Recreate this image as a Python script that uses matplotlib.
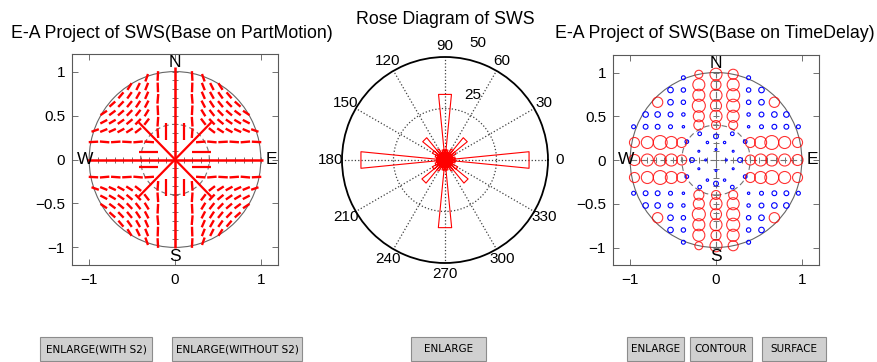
import numpy as np
import matplotlib
matplotlib.use("Agg")
import matplotlib.pyplot as plt
from matplotlib.collections import LineCollection
from matplotlib.patches import Rectangle, Circle

plt.rcParams["font.family"] = ["Liberation Sans", "DejaVu Sans"]

W, H = 878, 362

# --- PartMotion grid, NE quadrant (mirrored into the other three) ---
pm_x = [0.33, 0.43, 0.53, 0.63, 0.73, 0.83, 0.93]
pm_y = [0.33, 0.43, 0.53, 0.63, 0.73, 0.83, 0.93]

# fast direction (deg) of each bar, rows follow pm_y (None = no bar)
pm_quad_angle = [
    [None, -37, -32, -28, -24, -22, -19],
    [-52, -45, -39, -34, -30, -27, None],
    [-58, -51, -45, -40, -36, -33, None],
    [-62, -56, -50, -45, -41, None, None],
    [-66, -60, -54, -49, None, None, None],
    [-68, -63, -57, None, None, None, None],
    [-70, None, None, None, None, None, None],
]
pm_quad_len = 0.09

# bars in the lanes beside the N-S and E-W axes (lane offset 0.2)
pm_arm_pos = [0.30, 0.43, 0.56, 0.69, 0.82, 0.95]
pm_arm_ns_angle = [86, 94, 87, 95, 88, 93]
pm_arm_ew_angle = [4, -5, 3, -4, 5, -3]
pm_arm_len = 0.11

# central bars (x, y, angle, length) for the NE quadrant
pm_inner = [
    (0.21, 0.21, 45, 0.60),
    (0.31, 0.09, 0, 0.22),
    (0.11, 0.32, 90, 0.19),
]

# --- TimeDelay grid, NE quadrant ---
quad_x = [0.38, 0.53, 0.68, 0.82, 0.96]
quad_y = [0.38, 0.52, 0.66, 0.80, 0.94]

# marker areas on the quadrant grid (0 = none), rows follow quad_y
td_quad_size = [
    [3, 8, 12, 12, 8],
    [6, 12, 16, 16, 0],
    [10, 16, 0, 0, 0],
    [10, 16, 0, 0, 0],
    [8, 0, 0, 0, 0],
]
td_rim = [(0.68, 0.66, 55)]

# large delays along the N-S arm: lanes x=-0.2, 0, 0.2
td_ns_pos = [0.40, 0.50, 0.62, 0.74, 0.86, 0.98]
td_ns_size = [
    [52, 63, 88, 75, 75, 33],
    [42, 75, 63, 75, 52, 75],
    [42, 75, 88, 88, 75, 52],
]
# large delays along the E-W arm: lanes y=0.2, 0, -0.2
td_ew_pos = [0.40, 0.52, 0.65, 0.80, 0.95]
td_ew_size = [
    [52, 75, 100, 75, 52],
    [52, 75, 75, 75, 63],
    [52, 75, 100, 75, 52],
]
td_lanes = [-0.2, 0.0, 0.2]

# small delays inside the inner ring (x, y, area)
td_inner = [
    (0.0, 0.27, 12), (0.0, -0.27, 12), (-0.28, 0.0, 12), (0.28, 0.0, 12),
    (-0.19, 0.30, 7), (0.19, 0.30, 7), (-0.19, -0.31, 7), (0.19, -0.31, 7),
    (-0.34, 0.21, 7), (0.34, 0.21, 7), (-0.34, -0.19, 7), (0.34, -0.19, 7),
    (-0.1, 0.2, 3), (0.1, 0.2, 3), (-0.1, -0.23, 3), (0.1, -0.23, 3),
    (-0.2, 0.1, 2), (0.2, 0.1, 2), (-0.2, -0.1, 2), (0.2, -0.1, 2),
    (0.0, 0.12, 2), (0.0, -0.12, 2), (-0.12, 0.0, 2), (0.12, 0.0, 2),
]

# rose histogram: 32 bins of 11.25 deg
rose_counts = [41, 5, 4, 6, 14, 6, 4, 5, 32, 5, 4, 6, 14, 7, 5, 4,
               41, 4, 5, 7, 14.5, 6, 4, 5, 33, 5, 4, 6, 14.5, 7, 4, 5]
rose_width = 11.25
rose_angles = list(range(0, 360, 30))
rose_labels = ["0", "30", "60", "90", "120", "150", "180",
               "210", "240", "270", "300", "330"]

signs = [(1, 1), (-1, 1), (-1, -1), (1, -1)]


def fig_box(x0, y0, x1, y1):
    return [x0 / W, 1 - y1 / H, (x1 - x0) / W, (y1 - y0) / H]


def bar_segment(x, y, ang, length):
    c, s = np.cos(np.radians(ang)), np.sin(np.radians(ang))
    h = length / 2
    return [(x - h * c, y - h * s), (x + h * c, y + h * s)]


def style_proj_axes(ax):
    ax.set_xlim(-1.2, 1.2)
    ax.set_ylim(-1.2, 1.2)
    ax.set_xticks([-1, 0, 1])
    ax.set_yticks([-1, -0.5, 0, 0.5, 1])
    ax.set_yticklabels(["\u22121", "\u22120.5", "0", "0.5", "1"])
    ax.tick_params(direction="in", top=True, right=True, length=4,
                   width=0.6, color="0.35", labelsize=11)
    ax.tick_params(axis="x", pad=6)
    ax.tick_params(axis="y", pad=5)
    for sp in ax.spines.values():
        sp.set_color("0.35")
        sp.set_linewidth(0.8)


def draw_rings(ax):
    ax.add_patch(Circle((0, 0), 1.0, fill=False, ec="0.4", lw=0.8, zorder=1))
    ax.add_patch(Circle((0, 0), 0.4, fill=False, ec="0.45", lw=0.8,
                        ls=(0, (5, 3)), zorder=1))
    ticks = np.arange(-1, 1.01, 0.1)
    ax.plot([-1, 1], [0, 0], color="0.45", lw=0.8, ls=(0, (6, 3)), zorder=1)
    ax.plot([0, 0], [-1, 1], color="0.45", lw=0.8, ls=(0, (6, 3)), zorder=1)
    ax.plot(ticks, np.zeros_like(ticks), "|", color="0.45", ms=4, mew=0.7, zorder=1)
    ax.plot(np.zeros_like(ticks), ticks, "_", color="0.45", ms=4, mew=0.7, zorder=1)
    kw = dict(fontsize=12.5, ha="center", va="center", zorder=5)
    ax.text(0, 1.1, "N", **kw)
    ax.text(0, -1.1, "S", **kw)
    ax.text(-1.05, 0, "W", **kw)
    ax.text(1.12, 0, "E", **kw)


fig = plt.figure(figsize=(W / 100, H / 100), dpi=100)

# ---------------- PartMotion projection ----------------
ax1 = fig.add_axes(fig_box(72, 54, 278, 265))
style_proj_axes(ax1)
draw_rings(ax1)

segs, inner_segs = [], []
for sx, sy in signs:
    flip = -1 if sx * sy < 0 else 1
    for i, gy in enumerate(pm_y):
        for j, gx in enumerate(pm_x):
            a = pm_quad_angle[i][j]
            if a is None:
                continue
            segs.append(bar_segment(sx * gx, sy * gy, flip * a, pm_quad_len))
    for p, ans, aew in zip(pm_arm_pos, pm_arm_ns_angle, pm_arm_ew_angle):
        segs.append(bar_segment(sx * 0.2, sy * p, flip * ans, pm_arm_len))
        segs.append(bar_segment(sx * p, sy * 0.2, flip * aew, pm_arm_len))
    for x, y, a, length in pm_inner:
        inner_segs.append(bar_segment(sx * x, sy * y, flip * a, length))

ax1.add_collection(LineCollection(segs, colors="red", linewidths=1.7, zorder=3))
ax1.add_collection(LineCollection(inner_segs, colors="red",
                                  linewidths=1.6, zorder=3))
ax1.add_collection(LineCollection([bar_segment(0, 0, 0, 2.04),
                                   bar_segment(0, 0.02, 90, 2.06)],
                                  colors="red", linewidths=1.8, zorder=3))

# ---------------- Rose diagram ----------------
axp = fig.add_axes(fig_box(342, 57, 548, 263), projection="polar")
rose_th, rose_r = [], []
for i, r in enumerate(rose_counts):
    c = np.radians(i * rose_width)
    h = np.radians(rose_width / 2)
    rose_th += [0, c - h, c + h, 0]
    rose_r += [0, r, r, 0]
axp.plot(rose_th, rose_r, color="red", lw=0.8, zorder=3)
axp.set_ylim(0, 50)
axp.set_rgrids([25], labels=[""])
axp.set_thetagrids(rose_angles, [""] * len(rose_angles))
axp.grid(True, ls=":", color="0.25", lw=0.9)
axp.spines["polar"].set_color("black")
axp.spines["polar"].set_linewidth(1.3)
for ang, lab in zip(rose_angles, rose_labels):
    axp.text(np.radians(ang), 55.5, lab, fontsize=11, ha="center", va="center")
axp.text(np.radians(66.7), 34.4, "25", fontsize=11, ha="center", va="center")
axp.text(np.radians(74.2), 59.0, "50", fontsize=11, ha="center", va="center")

# ---------------- TimeDelay projection ----------------
ax2 = fig.add_axes(fig_box(613, 55, 819, 265))
style_proj_axes(ax2)
draw_rings(ax2)

bx, by, bs = [], [], []
rx, ry, rs = [], [], []
for sx, sy in signs:
    for i, gy in enumerate(quad_y):
        for j, gx in enumerate(quad_x):
            if td_quad_size[i][j] > 0:
                bx.append(sx * gx)
                by.append(sy * gy)
                bs.append(td_quad_size[i][j])
    for x, y, s in td_rim:
        rx.append(sx * x)
        ry.append(sy * y)
        rs.append(s)
for sgn in (1, -1):
    for k, lane in enumerate(td_lanes):
        for p, s in zip(td_ns_pos, td_ns_size[k]):
            rx.append(lane)
            ry.append(sgn * p)
            rs.append(s)
        for p, s in zip(td_ew_pos, td_ew_size[k]):
            rx.append(sgn * p)
            ry.append(-lane)
            rs.append(s)
for x, y, s in td_inner:
    bx.append(x)
    by.append(y)
    bs.append(s)

ax2.scatter(bx, by, s=bs, facecolors="none", edgecolors="blue",
            linewidths=0.8, zorder=3)
ax2.scatter(rx, ry, s=rs, facecolors="none", edgecolors="red",
            linewidths=0.8, alpha=0.8, zorder=3)

# ---------------- titles ----------------
title_kw = dict(fontsize=12.8, ha="center", va="center")
fig.text(172 / W, 1 - 34 / H, "E-A Project of SWS(Base on PartMotion)", **title_kw)
fig.text(445 / W, 1 - 19 / H, "Rose Diagram of SWS", **title_kw)
fig.text(715 / W, 1 - 34 / H, "E-A Project of SWS(Base on TimeDelay)", **title_kw)

# ---------------- buttons ----------------
buttons = [
    ("ENLARGE(WITH S2)", 40, 152),
    ("ENLARGE(WITHOUT S2)", 172, 302),
    ("ENLARGE", 411, 486),
    ("ENLARGE", 627, 684),
    ("CONTOUR", 690, 752),
    ("SURFACE", 762, 826),
]
by0, by1 = 337, 361
for label, x0, x1 in buttons:
    fig.add_artist(Rectangle((x0 / W, 1 - by1 / H), (x1 - x0) / W,
                             (by1 - by0) / H, transform=fig.transFigure,
                             fc="#d0d0d0", ec="#8c8c8c", lw=0.8))
    fig.text((x0 + x1) / 2 / W, 1 - (by0 + by1) / 2 / H, label,
             fontsize=7.5, ha="center", va="center",
             family=["Liberation Sans Narrow", "DejaVu Sans"])

fig.savefig("out.png", dpi=100)
